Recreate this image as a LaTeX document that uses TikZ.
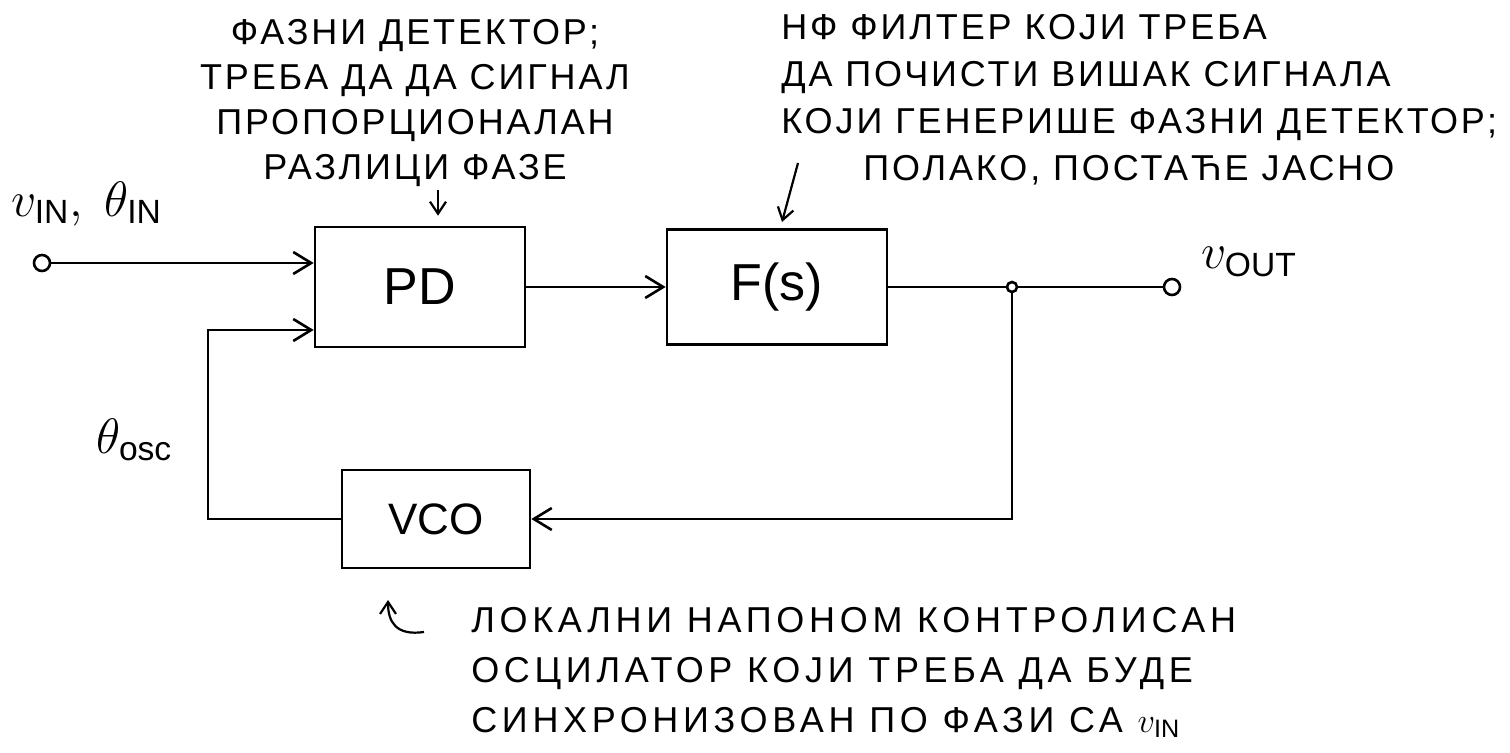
\documentclass[tikz,border=0pt]{standalone}
\usepackage{fontspec}
\setmainfont{Liberation Sans}
\newfontfamily\handfont[LetterSpace=8]{Liberation Sans}
\newfontfamily\widehandfont[LetterSpace=13]{Liberation Sans}
\usetikzlibrary{arrows.meta,positioning}

\begin{document}
\begin{tikzpicture}[x=0.5pt, y=-0.5pt, line width=1.3pt, >={Straight Barb[length=9pt,width=11pt]},
    blok/.style={draw, rectangle, inner sep=0pt, font=\fontsize{26}{30}\selectfont},
    term/.style={draw, circle, inner sep=0pt, minimum size=8pt, fill=white},
    sig/.style={inner sep=0pt, font=\fontsize{24}{28}\selectfont},
    note/.style={inner sep=0pt, font=\handfont\fontsize{18}{22.5}\selectfont},
    notearrow/.style={line width=1.1pt, -{Straight Barb[length=6pt,width=8pt]}}]

\useasboundingbox (0,0) rectangle (1510,753);

% === Blocks ===
\node[blok, minimum width=105pt, minimum height=60pt] (pd)  at (420,287) {PD};
\node[blok, minimum width=110pt, minimum height=57.5pt] (fs) at (777,287) {F(s)};
\node[blok, minimum width=94pt, minimum height=49pt, font=\fontsize{22}{26}\selectfont] (vco) at (436,519) {VCO};

% === Terminals ===
\node[term] (in)  at (42,263)   {};
\node[term] (out) at (1172,287) {};
\coordinate (fbl) at (208,330);

% === Signal path ===
\draw[->] (in) -- (in -| pd.west);
\draw[->] (pd) -- (fs);
\draw (fs.east) -- (out);
\node[term, minimum size=5pt] (jn) at (1012,287) {};
\draw[->] (jn) |- (vco.east);
\draw[->] (vco.west) -| (fbl) -- (fbl -| pd.west);

% === Signal labels ===
\node[sig, anchor=west] (inlbl)  at (10,204)   {$v_{\mathrm{IN}},\ \theta_{\mathrm{IN}}$};
\node[sig, anchor=west] (osclbl) at (95,440)   {$\theta_{\mathrm{osc}}$};
\node[sig, anchor=west] (outlbl) at (1200,262) {$v_{\mathrm{OUT}}$};

% === Notes ===
\node[note, align=center, anchor=north] (pdnote) at (415,18)
    {ФАЗНИ ДЕТЕКТОР;\\ТРЕБА ДА ДА СИГНАЛ\\ПРОПОРЦИОНАЛАН\\РАЗЛИЦИ ФАЗЕ};
\node[note, align=left, anchor=north west, font=\handfont\fontsize{18}{23.5}\selectfont] (fsnote) at (780,13)
    {НФ ФИЛТЕР КОЈИ ТРЕБА\\ДА ПОЧИСТИ ВИШАК СИГНАЛА\\КОЈИ ГЕНЕРИШЕ ФАЗНИ ДЕТЕКТОР;\\\hspace*{41pt}ПОЛАКО, ПОСТАЋЕ ЈАСНО};
\node[note, align=left, anchor=north west, font=\widehandfont\fontsize{18}{25}\selectfont] (vconote) at (470,606)
    {ЛОКАЛНИ НАПОНОМ КОНТРОЛИСАН\\ОСЦИЛАТОР КОЈИ ТРЕБА ДА БУДЕ\\СИНХРОНИЗОВАН ПО ФАЗИ СА $v_{\mathrm{IN}}$};

% === Note pointers ===
\coordinate (pdarr) at (438,190);
\draw[notearrow, shorten >=5pt] (pdarr) -- (pdarr |- pd.north);
\coordinate (fsarr) at (798,163);
\coordinate (fsarrend) at (782,222);
\draw[notearrow] (fsarr) -- (fsarrend);
\coordinate (vcoarr) at (424,632);
\draw[notearrow] (vcoarr) .. controls (396,636) and (388,622) .. (388,600);

\end{tikzpicture}
\end{document}
